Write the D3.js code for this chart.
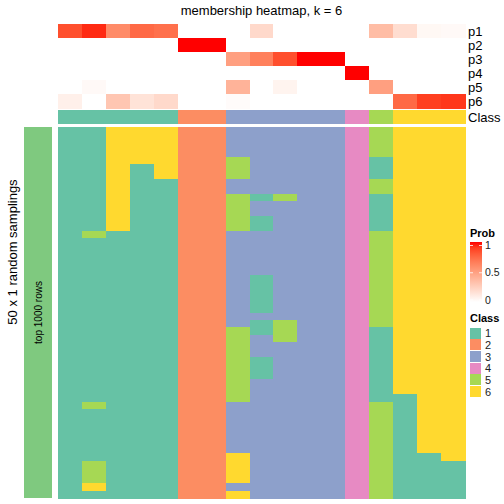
<!DOCTYPE html>
<html><head><meta charset="utf-8">
<script src="https://cdn.jsdelivr.net/npm/d3@7"></script>
<style>body{margin:0;background:#fff}svg{display:block}text{font-family:"Liberation Sans",Arial,sans-serif}rect{shape-rendering:crispEdges}</style>
</head><body><svg id="c" width="504" height="504"></svg>
<script>
const title = "membership heatmap, k = 6";
const probRows = ["p1","p2","p3","p4","p5","p6"];
const p1 = [0.85,0.95,0.6,0.75,0.72,0,0,0,0.2,0,0,0,0,0.35,0.18,0.04,0.03];
const p2 = [0,0,0,0,0,1,1,0,0,0,0,0,0,0,0,0,0];
const p3 = [0,0,0,0,0,0,0,0.5,0.65,0.85,1,1,0,0,0,0,0];
const p4 = [0,0,0,0,0,0,0,0,0,0,0,0,1,0,0,0,0];
const p5 = [0,0.03,0,0,0,0,0,0.4,0,0.06,0,0,0,0.5,0,0,0];
const p6 = [0.08,0,0.3,0.15,0.2,0,0,0.02,0,0,0,0,0,0,0.75,0.9,0.92];
const classRow = [1,1,1,1,1,2,2,3,3,3,3,3,4,5,6,6,6];
const classLabels = ["1","2","3","4","5","6"];
const classColors = ["#66C2A5","#FC8D62","#8DA0CB","#E78AC3","#A6D854","#FFD92F"];
// main heatmap: one string per column, 50 samplings each (top to bottom)
const samplingCols = [
  "11111111111111111111111111111111111111111111111111",
  "11111111111111511111111111111111111115111111155561",
  "66666666666666111111111111111111111111111111111111",
  "66666111111111111111111111111111111111111111111111",
  "66666661111111111111111111111111111111111111111111",
  "22222222222222222222222222222222222222222222222222",
  "22222222222222222222222222222222222222222222222222",
  "33335553355555333333333333355555555553333333666636",
  "33333333313311333333111113113331113333333333333333",
  "33333333353333333333333333555333333333333333333333",
  "33333333333333333333333333333333333333333333333333",
  "33333333333333333333333333333333333333333333333333",
  "44444444444444444444444444444444444444444444444444",
  "55551115511111555555555555511111111115555555555555",
  "66666666666666666666666666666666666611111111111111",
  "66666666666666666666666666666666666666666666111111",
  "66666666666666666666666666666666666666666666611111"
];
const probTicks = [0, 0.5, 1];

const svg = d3.select("#c");
const nCol = samplingCols.length, nRow = samplingCols[0].length;
const x = d3.scaleBand().domain(d3.range(nCol)).range([58, 465]);
const yTop = d3.scaleBand().domain(probRows).range([24, 108.5]);
const y = d3.scaleBand().domain(d3.range(nRow)).range([127, 498]);
const probColor = d3.scaleLinear().domain([0,1]).range(["#ffffff","#ff0000"]).interpolate(d3.interpolateLab);
const classColor = d3.scaleOrdinal().domain(classLabels).range(classColors);

svg.append("text").attr("x", 261.5).attr("y", 15).attr("text-anchor","middle")
  .attr("font-size", 13).text(title);

const probData = [p1,p2,p3,p4,p5,p6];
probRows.forEach((r, ri) => {
  svg.append("g").selectAll("rect").data(probData[ri]).join("rect")
    .attr("x", (d,i)=>x(i)).attr("width", x.bandwidth()+0.5)
    .attr("y", yTop(r)).attr("height", yTop.bandwidth()+0.5)
    .attr("fill", d=>probColor(d));
  svg.append("text").attr("x", 468).attr("y", yTop(r)+yTop.bandwidth()/2)
    .attr("dy","0.36em").attr("font-size", 13).text(r);
});
svg.append("g").selectAll("rect").data(classRow).join("rect")
  .attr("x",(d,i)=>x(i)).attr("width", x.bandwidth()+0.5)
  .attr("y",110).attr("height",14).attr("fill", d=>classColor(String(d)));
svg.append("text").attr("x",468).attr("y",117).attr("dy","0.36em").attr("font-size",13).text("Class");

const cells = [];
samplingCols.forEach((s, ci) => s.split("").forEach((c, ri) => cells.push({ci, ri, c})));
svg.append("g").selectAll("rect").data(cells).join("rect")
  .attr("x", d=>x(d.ci)).attr("width", x.bandwidth()+0.5)
  .attr("y", d=>y(d.ri)).attr("height", y.bandwidth()+0.5)
  .attr("fill", d=>classColor(d.c));

// left annotation
svg.append("rect").attr("x",24).attr("y",127).attr("width",28).attr("height",371).attr("fill","#7FC97F");
svg.append("text").attr("transform","translate(38,312.5) rotate(-90)").attr("text-anchor","middle")
  .attr("dy","0.35em").attr("font-size",10).text("top 1000 rows");
svg.append("text").attr("transform","translate(12,252) rotate(-90)").attr("text-anchor","middle")
  .attr("dy","0.35em").attr("font-size",13).text("50 x 1 random samplings");

// Prob legend
svg.append("text").attr("x",470).attr("y",237).attr("font-size",11).attr("font-weight","bold").text("Prob");
const defs = svg.append("defs");
const grad = defs.append("linearGradient").attr("id","pg").attr("x1",0).attr("y1",1).attr("x2",0).attr("y2",0);
d3.range(0,1.01,0.1).forEach(t => grad.append("stop").attr("offset",t).attr("stop-color",probColor(t)));
const ly = d3.scaleLinear().domain([0,1]).range([300,245.5]);
svg.append("rect").attr("x",470).attr("y",242).attr("width",12).attr("height",60).attr("fill","url(#pg)");
probTicks.forEach(t => {
  svg.append("line").attr("x1",470).attr("x2",473).attr("y1",ly(t)).attr("y2",ly(t)).attr("stroke","#fff").attr("stroke-width",0.8);
  svg.append("line").attr("x1",479).attr("x2",482).attr("y1",ly(t)).attr("y2",ly(t)).attr("stroke","#fff").attr("stroke-width",0.8);
  svg.append("text").attr("x",485).attr("y",ly(t)).attr("dy","0.34em").attr("font-size",10.5).attr("fill","#222").text(t);
});

// Class legend
svg.append("text").attr("x",470).attr("y",322).attr("font-size",11).attr("font-weight","bold").text("Class");
const lg = svg.append("g").selectAll("g").data(classLabels).join("g")
  .attr("transform",(d,i)=>`translate(470,${327.5+i*11.7})`);
lg.append("rect").attr("width",11).attr("height",11).attr("fill",d=>classColor(d));
lg.append("text").attr("x",15).attr("y",5.8).attr("dy","0.36em").attr("font-size",11).attr("fill","#222").text(d=>d);
</script></body></html>
